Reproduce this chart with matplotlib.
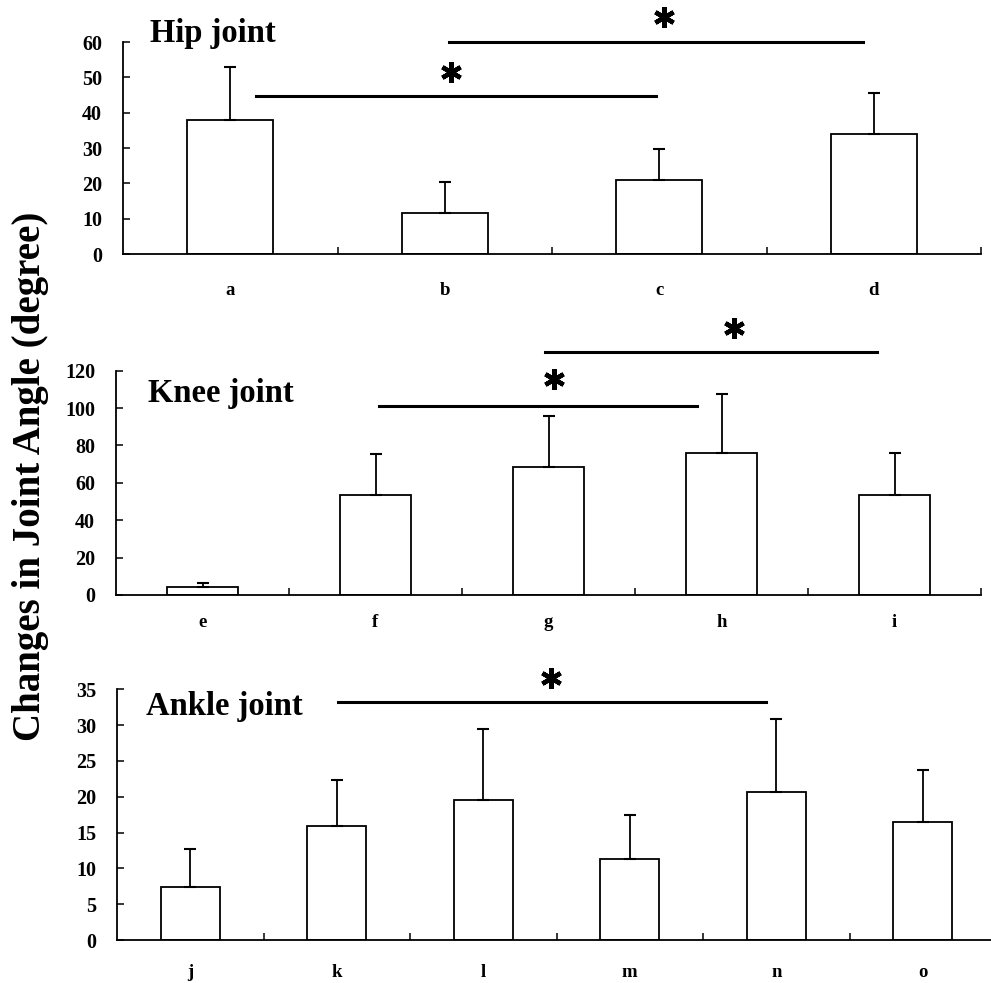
import matplotlib
matplotlib.use("Agg")
import matplotlib.pyplot as plt
import numpy as np

plt.rcParams['font.family'] = ['Liberation Serif', 'DejaVu Serif']
plt.rcParams['font.weight'] = 'bold'

# ---------------- data ----------------
hip_labels = ['a', 'b', 'c', 'd']
hip_means = [38.0, 11.5, 21.0, 34.0]
hip_sd = [15.0, 9.0, 8.7, 11.6]
hip_ticks = [0, 10, 20, 30, 40, 50, 60]

knee_labels = ['e', 'f', 'g', 'h', 'i']
knee_means = [4.3, 53.7, 68.7, 76.1, 53.7]
knee_sd = [2.1, 21.9, 27.2, 31.3, 22.1]
knee_ticks = [0, 20, 40, 60, 80, 100, 120]

ankle_labels = ['j', 'k', 'l', 'm', 'n', 'o']
ankle_means = [7.4, 15.9, 19.5, 11.3, 20.7, 16.5]
ankle_sd = [5.3, 6.4, 10.0, 6.2, 10.2, 7.3]
ankle_ticks = [0, 5, 10, 15, 20, 25, 30, 35]

# significance brackets: (x_start, x_end, line_y, star_x, star_y)
hip_sig = [(0.12, 1.985, 44.6, 1.03, 51.5), (1.02, 2.95, 60.1, 2.02, 67.1)]
knee_sig = [(1.02, 2.86, 101.3, 2.03, 115.6), (1.98, 3.90, 130.2, 3.07, 142.9)]
ankle_sig = [(1.01, 3.93, 33.2, 2.46, 36.6)]

W, H = 991, 983
fig = plt.figure(figsize=(W / 100, H / 100), dpi=100)


def px_axes(left, right, top, bottom):
    return fig.add_axes([left / W, 1 - bottom / H, (right - left) / W, (bottom - top) / H])


def panel(ax, labels, means, sd, ticks, sig, title, title_xy, xpad, bar_w=0.4):
    n = len(labels)
    x = np.arange(n)
    ax.bar(x, means, width=bar_w, color='white', edgecolor='black', linewidth=1.3, zorder=2)
    ax.errorbar(x, means, yerr=[np.zeros(n), sd], fmt='none', ecolor='black',
                elinewidth=1.3, capsize=4.5, capthick=1.5, zorder=3)
    ax.set_xlim(-0.5, n - 0.5)
    ax.set_ylim(0, ticks[-1])
    ax.set_yticks(ticks)
    ax.set_yticklabels([str(t) for t in ticks], fontsize=14.5, fontweight='bold')
    ax.set_xticks(x)
    ax.set_xticklabels(labels, fontsize=13.5, fontweight='bold')
    ax.set_xticks(np.arange(n) + 0.5, minor=True)
    ax.tick_params(axis='x', which='major', length=0, pad=xpad)
    ax.tick_params(axis='x', which='minor', direction='in', length=5, width=1.1)
    ax.tick_params(axis='y', direction='in', length=5, width=1.1, pad=15)
    for s in ['top', 'right']:
        ax.spines[s].set_visible(False)
    for s in ['left', 'bottom']:
        ax.spines[s].set_linewidth(1.3)
    for (x0, x1, ly, sx, sy) in sig:
        ax.plot([x0, x1], [ly, ly], color='black', lw=2.2, clip_on=False, zorder=4)
        ax.plot([sx], [sy], marker=(6, 2, 0), markersize=15, markeredgewidth=3.2,
                color='black', clip_on=False, zorder=4)
    fig.text(title_xy[0] / W, 1 - title_xy[1] / H, title, fontsize=23.5,
             fontweight='bold', ha='left', va='baseline')


ax1 = px_axes(123, 981, 42, 254)
panel(ax1, hip_labels, hip_means, hip_sd, hip_ticks, hip_sig, 'Hip joint', (150, 42), 20)

ax2 = px_axes(116, 981, 370.7, 595)
panel(ax2, knee_labels, knee_means, knee_sd, knee_ticks, knee_sig, 'Knee joint', (148, 402), 13.5, bar_w=0.41)

ax3 = px_axes(117, 996, 689.3, 940)
panel(ax3, ankle_labels, ankle_means, ankle_sd, ankle_ticks, ankle_sig, 'Ankle joint', (146, 715), 17)

fig.text(31 / W, 1 - 476 / H, 'Changes in Joint Angle (degree)', rotation=90,
         fontsize=28, fontweight='bold', ha='center', va='center')

fig.savefig('out.png', dpi=100)
